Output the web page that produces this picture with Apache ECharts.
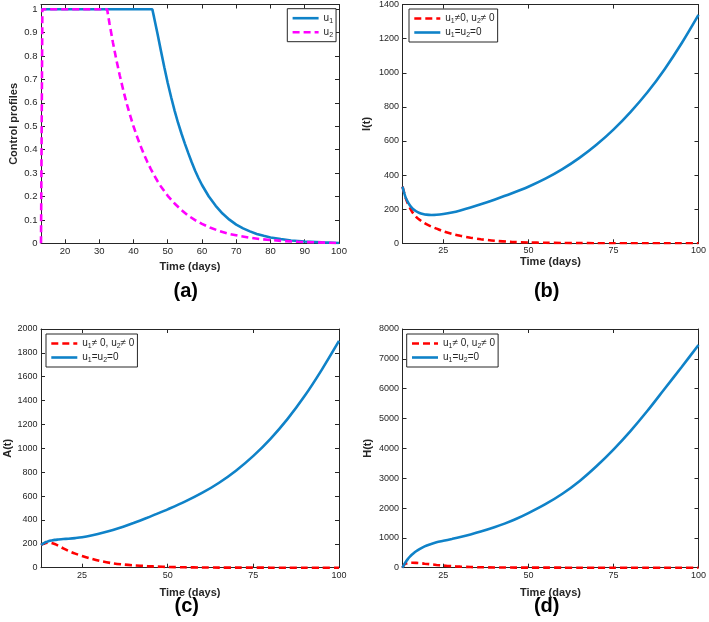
<!DOCTYPE html>
<html><head><meta charset="utf-8">
<script src="https://cdn.jsdelivr.net/npm/echarts/dist/echarts.min.js"></script>
<style>html,body{margin:0;padding:0;background:#fff}#c{width:709px;height:622px}</style>
</head><body><div id="c"></div>
<script>
// ---------- data ----------
const u1T = [13, 45.5, 46, 46.6, 47, 48, 49, 50, 51, 52, 53, 54, 55, 56, 57, 58, 59, 60, 62, 64, 66, 68, 70, 72, 74, 76, 78, 80, 83, 86, 90, 95, 100];
const u1V = [1, 1, 0.966, 0.924, 0.896, 0.823, 0.752, 0.685, 0.624, 0.567, 0.515, 0.469, 0.426, 0.385, 0.346, 0.31, 0.278, 0.249, 0.2, 0.16, 0.127, 0.101, 0.08, 0.064, 0.051, 0.04, 0.032, 0.025, 0.018, 0.012, 0.0074, 0.004, 0.001];
const u2T = [13, 13.4, 32.3, 33, 34, 35, 36, 37, 38, 39, 40, 41, 42, 43, 44, 45, 46, 47, 48, 50, 52, 54, 56, 58, 60, 62.5, 65, 68, 71, 74, 77, 80, 84, 88, 92, 96, 100];
const u2V = [0, 1, 1, 0.939, 0.858, 0.784, 0.717, 0.655, 0.598, 0.547, 0.5, 0.457, 0.418, 0.382, 0.349, 0.319, 0.291, 0.266, 0.243, 0.203, 0.17, 0.142, 0.118, 0.099, 0.083, 0.066, 0.053, 0.04, 0.031, 0.024, 0.018, 0.014, 0.0095, 0.0066, 0.0045, 0.003, 0.001];

const bT = [13, 13.5, 14, 14.5, 15, 15.5, 16, 17, 18, 19, 20, 21.5, 23, 25, 27.5, 30, 33, 36, 40, 45, 50, 55, 60, 65, 70, 75, 80, 85, 90, 95, 100];
const bCtrl = [332, 295, 262, 236, 215, 196, 180, 155, 138, 124, 112, 98, 86, 70, 55, 44, 33, 24, 15, 8.5, 5, 3, 1.7, 1, 0.6, 0.4, 0.2, 0.1, 0.05, 0.02, 0];
const bNone = [332, 295, 265, 245, 228, 214, 203, 188, 178, 172, 168, 166, 167, 172, 181, 193, 210, 229, 256, 292, 332, 379, 435, 501, 578, 667, 770, 886, 1020, 1172, 1340];

const cT = [13, 13.5, 14, 14.5, 15, 15.5, 16, 17, 18, 19.5, 21, 23, 25, 28, 31, 34, 37, 40, 44, 47, 50, 55, 60, 65, 70, 75, 80, 85, 90, 95, 100];
const cCtrl = [190, 197, 203, 207, 209, 209, 207, 198, 185, 162, 141, 118, 98, 73, 52, 37, 27, 20, 13, 9, 6, 3.2, 1.8, 1, 0.6, 0.4, 0.2, 0.1, 0.05, 0.02, 0];
const cNone = [190, 200, 208, 215, 220, 225, 228, 233, 236, 240, 243, 248, 255, 272, 292, 316, 343, 374, 418, 453, 489, 553, 626, 712, 815, 937, 1080, 1247, 1440, 1660, 1900];

const dT = [13, 13.3, 13.6, 14, 14.5, 15, 15.5, 16, 17, 18, 19.5, 21, 23, 25, 27.5, 30, 33, 36, 40, 43, 46.5, 50, 55, 60, 65, 70, 75, 80, 85, 90, 95, 100];
const dCtrl = [0, 70, 115, 140, 155, 162, 166, 167, 163, 155, 135, 118, 92, 70, 50, 35, 23, 15, 9, 6, 4, 3, 1.5, 0.8, 0.4, 0.2, 0.1, 0.05, 0.02, 0.01, 0, 0];
const dNone = [0, 70, 130, 200, 280, 350, 410, 460, 550, 625, 715, 780, 850, 900, 962, 1027, 1114, 1210, 1354, 1477, 1641, 1830, 2130, 2480, 2900, 3400, 3960, 4580, 5260, 5990, 6720, 7464];

const aXTicks = [20, 30, 40, 50, 60, 70, 80, 90, 100];
const aYTicks = [0, 0.1, 0.2, 0.3, 0.4, 0.5, 0.6, 0.7, 0.8, 0.9, 1];
const tXTicks = [25, 50, 75, 100];
const bYTicks = [0, 200, 400, 600, 800, 1000, 1200, 1400];
const cYTicks = [0, 200, 400, 600, 800, 1000, 1200, 1400, 1600, 1800, 2000];
const dYTicks = [0, 1000, 2000, 3000, 4000, 5000, 6000, 7000, 8000];

// ---------- styling ----------
const FONT = "'Liberation Sans', Arial, Helvetica, sans-serif";
const AX = '#262626';
const BLUE = '#0f82c8', RED = '#ff0000', MAG = '#ff00ff';
const zip = (t, v) => t.map((x, i) => [x, v[i]]);

const grids = [
  {left: 41, top: 4.5, width: 298, height: 238.8},
  {left: 402.5, top: 4.6, width: 297.8, height: 238.7},
  {left: 41, top: 329, width: 298, height: 238.7},
  {left: 402.5, top: 329, width: 297.8, height: 238.7}
];
const panels = [
  {xt: aXTicks, yt: aYTicks, ymax: 1.02, yName: 'Control profiles', xGap: 18.5, yGap: 22, fs: 9.5},
  {xt: tXTicks, yt: bYTicks, ymax: 1400, yName: 'I(t)', xGap: 6.5, yGap: 30.5, fs: 9},
  {xt: tXTicks, yt: cYTicks, ymax: 2000, yName: 'A(t)', xGap: 19.5, yGap: 20, fs: 9},
  {xt: tXTicks, yt: dYTicks, ymax: 8000, yName: 'H(t)', xGap: 19.5, yGap: 29.5, fs: 9}
];
const nameStyle = {fontFamily: FONT, fontWeight: 'bold', fontSize: 11, color: AX};
const fmt = v => String(v);
const xAxes = [], yAxes = [];
panels.forEach((p, i) => {
  [true, false].forEach(main => {
    xAxes.push({type: 'value', gridIndex: i, min: 13, max: 100, position: main ? 'bottom' : 'top',
      name: main ? 'Time (days)' : '', nameLocation: 'middle', nameGap: p.xGap, nameTextStyle: nameStyle,
      axisLine: {show: true, onZero: false, lineStyle: {color: AX, width: 1}},
      axisTick: {show: true, inside: true, length: 4, customValues: p.xt, lineStyle: {color: AX}},
      axisLabel: {show: main, customValues: p.xt, formatter: fmt, margin: 3, fontFamily: FONT, fontSize: p.fs, color: AX},
      splitLine: {show: false}});
    yAxes.push({type: 'value', gridIndex: i, min: 0, max: p.ymax, position: main ? 'left' : 'right',
      name: main ? p.yName : '', nameLocation: 'middle', nameGap: p.yGap, nameTextStyle: nameStyle,
      axisLine: {show: true, onZero: false, lineStyle: {color: AX, width: 1}},
      axisTick: {show: true, inside: true, length: 4, customValues: p.yt, lineStyle: {color: AX}},
      axisLabel: {show: main, customValues: p.yt, formatter: fmt, margin: 3.5, fontFamily: FONT, fontSize: p.fs, color: AX},
      splitLine: {show: false}});
  });
});

function line(name, i, data, color, dashed, smooth) {
  return {type: 'line', name, xAxisIndex: 2 * i, yAxisIndex: 2 * i, data,
    showSymbol: false, symbol: 'none', smooth: smooth ? 0.3 : false,
    itemStyle: {color}, lineStyle: {color, width: 2.6, type: dashed ? [7, 4] : 'solid'}};
}
const series = [
  line('u1', 0, zip(u1T, u1V), BLUE, false, false),
  line('u2', 0, zip(u2T, u2V), MAG, true, false),
  line('bC', 1, zip(bT, bCtrl), RED, true, true),
  line('bN', 1, zip(bT, bNone), BLUE, false, true),
  line('cC', 2, zip(cT, cCtrl), RED, true, true),
  line('cN', 2, zip(cT, cNone), BLUE, false, true),
  line('dC', 3, zip(dT, dCtrl), RED, true, true),
  line('dN', 3, zip(dT, dNone), BLUE, false, true)
];

const labels = {
  u1: '{n|u}{s|1}', u2: '{n|u}{s|2}',
  bC: '{n|u}{s|1}{n|≠0, u}{s|2}{n|≠ 0}', bN: '{n|u}{s|1}{n|=u}{s|2}{n|=0}',
  cC: '{n|u}{s|1}{n|≠ 0, u}{s|2}{n|≠ 0}', cN: '{n|u}{s|1}{n|=u}{s|2}{n|=0}',
  dC: '{n|u}{s|1}{n|≠ 0, u}{s|2}{n|≠ 0}', dN: '{n|u}{s|1}{n|=u}{s|2}{n|=0}'
};
function legend(data, left, top) {
  return {data, left, top, orient: 'vertical', padding: [3, 3, 3, 4], itemGap: 1,
    itemWidth: 26, itemHeight: 10, borderColor: AX, borderWidth: 1, backgroundColor: '#fff',
    selectedMode: false, formatter: n => labels[n],
    itemStyle: {opacity: 0, borderWidth: 0},
    lineStyle: {width: 2.6},
    textStyle: {fontFamily: FONT, fontSize: 10, color: AX,
      rich: {n: {fontFamily: FONT, fontSize: 10, lineHeight: 12, color: AX},
             s: {fontFamily: FONT, fontSize: 7, lineHeight: 8, padding: [6, 0, 0, 0], color: AX}}}};
}

const titleFont = 'bold 20px ' + FONT;
const titles = [['(a)', 185.7, 291], ['(b)', 546.7, 291], ['(c)', 186.7, 606], ['(d)', 546.7, 606]];

const chart = echarts.init(document.getElementById('c'), null, {renderer: 'canvas'});
chart.setOption({
  animation: false,
  backgroundColor: '#fff',
  grid: grids,
  xAxis: xAxes,
  yAxis: yAxes,
  legend: [legend(['u1', 'u2'], 287.3, 8.7), legend(['bC', 'bN'], 409, 9),
           legend(['cC', 'cN'], 46, 334), legend(['dC', 'dN'], 406.7, 334)],
  series,
  graphic: titles.map(t => ({type: 'text', x: t[1], y: t[2],
    style: {text: t[0], font: titleFont, fill: '#000', textAlign: 'center', textVerticalAlign: 'middle'}}))
});
</script></body></html>
